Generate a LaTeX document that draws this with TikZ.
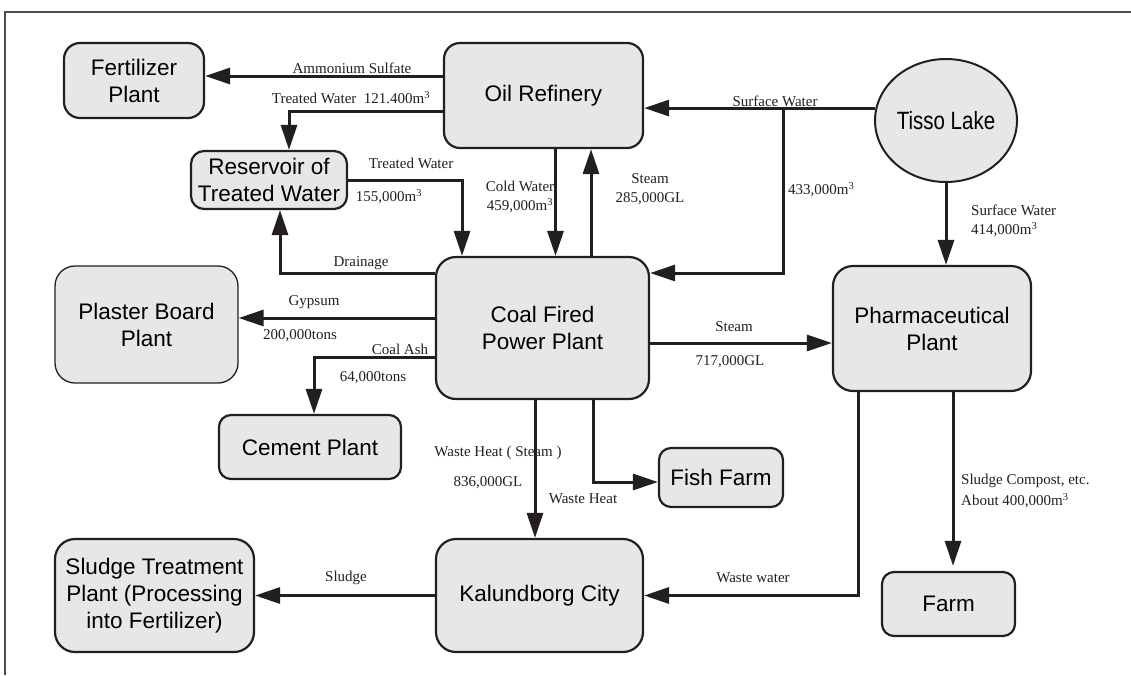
\documentclass[tikz,border=0pt]{standalone}
\usepackage{fontspec}
\setmainfont{Liberation Serif}
\newfontfamily\boxfont{Liberation Sans}
\newfontfamily\lakefont[FakeStretch=0.82]{Liberation Sans}
\usetikzlibrary{arrows.meta,shapes.geometric}

\definecolor{boxgray}{RGB}{230,231,233}
\definecolor{ink}{RGB}{35,31,32}

\tikzset{
  plant/.style={draw=ink, line width=2.2pt, fill=boxgray, rounded corners=16pt,
    align=center, inner sep=0pt, font=\boxfont\fontsize{22.5}{27}\selectfont},
  flow/.style={draw=ink, line width=3pt, -{Triangle[length=25pt,width=16pt]}},
  lbl/.style={text=ink, inner sep=0pt, align=center, font=\fontsize{15}{19}\selectfont},
}

\begin{document}
\begin{tikzpicture}[x=1pt, y=-1pt]
    \useasboundingbox (0,0) rectangle (1131,675);
    % Frame
    \draw[ink!80, line width=1.2pt] (5,675) -- (5,12) -- (1131,12);

    % Plants
    \node[plant, minimum width=140, minimum height=75] (fert) at (134,80.5) {Fertilizer\\Plant};
    \node[plant, minimum width=199, minimum height=105] (oil) at (543.5,95.5) {Oil Refinery};
    \node[draw=ink, line width=2pt, fill=boxgray, ellipse, inner sep=0pt,
          minimum width=142, minimum height=123, font=\lakefont\fontsize{25}{26}\selectfont]
          (tisso) at (946,120.5) {Tisso Lake};
    \node[plant, minimum width=156, minimum height=58, rounded corners=13pt] (res) at (269,180) {Reservoir of\\Treated Water};
    \node[plant, minimum width=213, minimum height=142, rounded corners=20pt] (coal) at (542.5,328) {Coal Fired\\Power Plant};
    \node[plant, line width=1.3pt, minimum width=183, minimum height=117, rounded corners=20pt] (plaster) at (146.5,324.5) {Plaster Board\\Plant};
    \node[plant, minimum width=182, minimum height=64, rounded corners=12pt] (cement) at (310,447) {Cement Plant};
    \node[plant, minimum width=198, minimum height=125, rounded corners=20pt] (pharma) at (932,328.5) {Pharmaceutical\\Plant};
    \node[plant, minimum width=124, minimum height=59, rounded corners=12pt] (fish) at (721,477.5) {Fish Farm};
    \node[plant, minimum width=207, minimum height=113, rounded corners=20pt] (kal) at (539.5,595.5) {Kalundborg City};
    \node[plant, minimum width=199, minimum height=113, rounded corners=20pt] (sludge) at (154.5,595.5) {Sludge Treatment\\Plant (Processing\\into Fertilizer)};
    \node[plant, minimum width=133, minimum height=64, rounded corners=12pt] (farm) at (948.5,604) {Farm};

    % Flows from the refinery
    \coordinate (ammo) at ([yshift=19.5pt]oil.west);
    \draw[flow] (ammo) -- (ammo -| fert.east);
    \draw[flow] ([yshift=-15.5pt]oil.west) -| ([xshift=20pt]res.north);
    \draw[flow] ([xshift=12pt]oil.south) -- ([xshift=12pt]oil.south |- coal.north);

    % Flows from the lake
    \coordinate (lake) at (tisso.170);
    \coordinate (jct) at (783,110);
    \draw[flow] (lake) -- (lake -| oil.east);
    \draw[flow] (jct) |- ([yshift=55pt]coal.east);
    \draw[flow] (tisso.south) -- (tisso.south |- pharma.north);

    % Flows from the power plant
    \draw[flow] (res.east) -| ([xshift=-80.5pt]coal.north);
    \draw[flow] ([xshift=48.5pt]coal.north) -- ([xshift=48.5pt]coal.north |- oil.south);
    \draw[flow] ([yshift=55pt]coal.west) -| ([xshift=11pt]res.south);
    \coordinate (gyp) at ([yshift=10pt]coal.west);
    \draw[flow] (gyp) -- (gyp -| plaster.east);
    \draw[flow] ([yshift=-29pt]coal.west) -| ([xshift=4pt]cement.north);
    \coordinate (stm) at ([yshift=-15pt]coal.east);
    \draw[flow] (stm) -- (stm -| pharma.west);
    \draw[flow] ([xshift=-7.5pt]coal.south) -- ([xshift=-7.5pt]coal.south |- kal.north);
    \draw[flow] ([xshift=50.5pt]coal.south) |- ([yshift=-4.5pt]fish.west);

    % Flows from the pharmaceutical plant and the city
    \draw[flow] ([xshift=-74pt]pharma.south) |- (kal.east);
    \draw[flow, shorten >=5pt] ([xshift=21pt]pharma.south) -- ([xshift=21pt]pharma.south |- farm.north);
    \draw[flow] (kal.west) -- (kal.west -| sludge.east);

    % Labels
    \node[lbl] (l-ammo) at (352,68) {Ammonium Sulfate};
    \node[lbl] (l-tw1) at (351,98) {Treated Water\ \ 121.400m\textsuperscript{3}};
    \node[lbl] (l-tw2) at (411,163) {Treated Water};
    \node[lbl] (l-tw2v) at (389,197) {155,000m\textsuperscript{3}};
    \node[lbl] (l-cold) at (520,197) {Cold Water\\459,000m\textsuperscript{3}};
    \node[lbl] (l-steam1) at (650,189) {Steam\\285,000GL};
    \node[lbl] (l-sw1) at (775,101) {Surface Water};
    \node[lbl, anchor=west] (l-433) at (788,190) {433,000m\textsuperscript{3}};
    \node[lbl, anchor=west, align=left] (l-sw2) at (971,221) {Surface Water\\414,000m\textsuperscript{3}};
    \node[lbl] (l-drain) at (361,263) {Drainage};
    \node[lbl] (l-gyp) at (314,302) {Gypsum};
    \node[lbl] (l-gypv) at (300,336) {200,000tons};
    \node[lbl] (l-ash) at (400,349) {Coal Ash};
    \node[lbl] (l-ashv) at (373,378) {64,000tons};
    \node[lbl] (l-steam2) at (734,327) {Steam};
    \node[lbl] (l-steam2v) at (730,362) {717,000GL};
    \node[lbl] (l-wh1) at (498,453) {Waste Heat ( Steam )};
    \node[lbl] (l-wh1v) at (488,483) {836,000GL};
    \node[lbl] (l-wh2) at (583,499) {Waste Heat};
    \node[lbl] (l-ww) at (753,578) {Waste water};
    \node[lbl] (l-sl) at (346,578) {Sludge};
    \node[lbl, anchor=west, align=left, font=\fontsize{15}{21}\selectfont] (l-comp) at (961,491) {Sludge Compost, etc.\\About 400,000m\textsuperscript{3}};
\end{tikzpicture}
\end{document}
